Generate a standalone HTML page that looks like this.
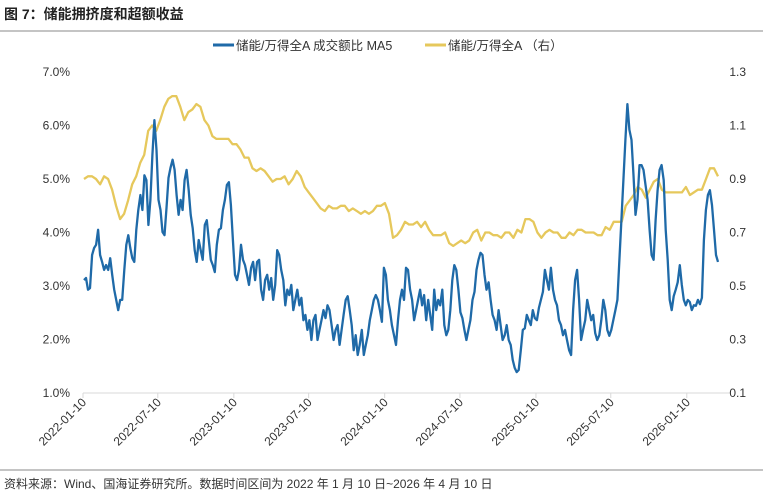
<!DOCTYPE html>
<html><head><meta charset="utf-8">
<style>
body{margin:0;background:#fff;}
#wrap{position:relative;width:763px;height:500px;overflow:hidden;font-family:"Liberation Sans","Noto Sans CJK SC",sans-serif;}
</style></head>
<body>
<div id="wrap">
<svg id="chart" width="763" height="500" viewBox="0 0 763 500" xmlns="http://www.w3.org/2000/svg">
  <text x="4" y="19" font-size="14" font-weight="bold" fill="#222" font-family="Liberation Sans, Noto Sans CJK SC, sans-serif">图 7：储能拥挤度和超额收益</text>
  <line x1="0" y1="31" x2="763" y2="31" stroke="#888" stroke-width="1"/>
  <g>
    <g>
      <line x1="213" y1="45" x2="234" y2="45" stroke="#1f6aa8" stroke-width="3"/>
      <text x="236" y="50" font-size="12.5" fill="#333" font-family="Liberation Sans, Noto Sans CJK SC, sans-serif">储能/万得全A 成交额比 MA5</text>
    </g>
    <g>
      <line x1="425" y1="45" x2="446" y2="45" stroke="#e6c85c" stroke-width="3"/>
      <text x="448" y="50" font-size="12.5" fill="#333" font-family="Liberation Sans, Noto Sans CJK SC, sans-serif">储能/万得全A （右）</text>
    </g>
  </g>
  <g id="axes"></g>
  <g id="series"></g>
  <line x1="0" y1="470" x2="763" y2="470" stroke="#888" stroke-width="1"/>
  <text x="4" y="488" font-size="12" fill="#333" font-family="Liberation Sans, Noto Sans CJK SC, sans-serif">资料来源：Wind、国海证券研究所。数据时间区间为 2022 年 1 月 10 日~2026 年 4 月 10 日</text>
</svg>
</div>
<script>
const leftTicks = [1,2,3,4,5,6,7];
const leftTickLabels = ["1.0%","2.0%","3.0%","4.0%","5.0%","6.0%","7.0%"];
const rightTicks = [0.1,0.3,0.5,0.7,0.9,1.1,1.3];
const rightTickLabels = ["0.1","0.3","0.5","0.7","0.9","1.1","1.3"];
const dateTicks = ["2022-01-10","2022-07-10","2023-01-10","2023-07-10","2024-01-10","2024-07-10","2025-01-10","2025-07-10","2026-01-10"];
const startDate = "2022-01-10";
const endDate = "2026-04-10";
const turnoverRatio = [3.11,3.15,2.93,2.96,3.58,3.71,3.77,4.05,3.58,3.45,3.30,3.39,3.30,3.52,3.21,2.93,2.74,2.55,2.74,2.74,3.30,3.77,3.95,3.71,3.52,3.45,4.05,4.42,4.70,4.42,5.07,4.98,4.14,4.61,5.45,6.10,5.54,4.61,4.42,4.01,3.95,4.46,5.02,5.21,5.36,5.17,4.70,4.33,4.61,4.42,4.98,5.17,4.79,4.33,4.08,3.67,3.45,3.86,3.67,3.49,4.14,4.23,3.86,3.49,3.39,3.26,3.77,4.05,4.08,4.42,4.61,4.89,4.94,4.51,3.86,3.21,3.11,3.30,3.77,3.49,3.39,3.21,3.02,3.34,3.45,3.11,3.45,3.49,2.93,2.74,3.11,3.21,2.93,3.15,2.74,3.02,3.67,3.58,3.30,3.11,2.64,2.93,2.83,3.02,2.55,2.74,2.93,2.64,2.78,2.36,2.46,2.18,2.36,1.99,2.36,2.46,1.99,2.18,2.36,2.55,2.40,2.64,2.55,2.27,1.99,2.18,2.27,1.90,2.18,2.46,2.74,2.81,2.55,2.27,1.80,2.08,1.71,1.90,2.18,1.71,1.90,2.08,2.36,2.55,2.74,2.83,2.74,2.55,2.33,3.34,3.21,2.74,2.55,2.27,2.08,1.90,2.36,2.74,2.93,2.74,3.34,3.30,2.93,2.74,2.36,2.55,2.74,2.93,2.64,2.83,2.36,2.74,2.46,2.18,2.93,2.55,2.74,2.64,2.93,2.27,2.08,2.18,2.55,3.11,3.39,3.30,2.93,2.51,2.40,2.18,1.99,2.18,2.36,2.74,2.89,3.30,3.49,3.62,3.58,3.21,2.93,3.07,2.74,2.46,2.36,2.18,2.55,2.27,1.99,2.08,2.27,1.99,1.90,1.62,1.47,1.39,1.43,1.80,2.18,2.21,2.46,2.36,2.27,2.55,2.40,2.36,2.59,2.74,2.89,3.30,3.11,2.93,3.34,2.93,2.74,2.64,2.36,2.27,2.08,2.18,1.99,1.80,1.71,2.55,3.11,3.30,2.74,1.99,2.18,2.36,2.74,2.55,2.36,2.46,2.12,1.99,2.08,2.36,2.74,2.55,2.18,2.07,2.18,2.36,2.55,2.74,3.49,4.23,4.98,5.73,6.40,5.92,5.73,5.07,4.33,4.61,5.26,5.26,5.17,4.89,4.61,4.05,3.58,3.49,4.23,4.79,5.17,5.26,4.98,4.05,3.49,2.74,2.55,2.81,2.93,3.07,3.39,3.02,2.74,2.64,2.74,2.70,2.55,2.64,2.63,2.74,2.66,2.78,3.86,4.42,4.70,4.79,4.51,4.05,3.58,3.45];
const relativeIndex = [0.90,0.91,0.91,0.90,0.88,0.91,0.90,0.86,0.80,0.75,0.77,0.82,0.88,0.91,0.96,0.99,1.08,1.10,1.08,1.12,1.17,1.20,1.21,1.21,1.17,1.12,1.15,1.16,1.18,1.17,1.12,1.10,1.06,1.05,1.05,1.05,1.05,1.03,1.03,1.01,0.98,0.98,0.94,0.93,0.94,0.93,0.91,0.89,0.90,0.90,0.91,0.88,0.90,0.93,0.91,0.87,0.85,0.83,0.81,0.79,0.78,0.80,0.79,0.79,0.80,0.80,0.78,0.79,0.78,0.77,0.78,0.77,0.78,0.80,0.80,0.81,0.77,0.68,0.69,0.71,0.74,0.73,0.73,0.74,0.72,0.74,0.71,0.69,0.69,0.69,0.70,0.66,0.65,0.66,0.67,0.66,0.67,0.70,0.71,0.67,0.70,0.70,0.69,0.69,0.68,0.70,0.70,0.68,0.71,0.70,0.75,0.75,0.74,0.70,0.68,0.70,0.71,0.70,0.70,0.68,0.68,0.70,0.69,0.71,0.71,0.70,0.70,0.70,0.69,0.69,0.72,0.71,0.74,0.74,0.74,0.80,0.82,0.84,0.87,0.86,0.83,0.86,0.89,0.90,0.86,0.85,0.85,0.85,0.85,0.85,0.87,0.84,0.85,0.86,0.86,0.90,0.94,0.94,0.91];

const NS = "http://www.w3.org/2000/svg";
const PL = 83, PR = 730, PT = 72, PB = 393;
const dataX0 = 84, dataX1 = 718;
const yLeft = v => PB - (v - 1) / 6 * (PB - PT);
const yRight = v => PB - (v - 0.1) / 1.2 * (PB - PT);
const t0 = Date.parse(startDate), t1 = Date.parse(endDate);
const xDate = d => PL + (Date.parse(d) - t0) / (t1 - t0) * (724 - PL);
const xIdx = (i, n) => dataX0 + i / (n - 1) * (dataX1 - dataX0);
const axes = document.getElementById('axes');
const series = document.getElementById('series');
const FONT = "Liberation Sans, Noto Sans CJK SC, sans-serif";

const base = document.createElementNS(NS, 'line');


base.setAttribute('x1', PL); base.setAttribute('x2', PR);
base.setAttribute('y1', PB); base.setAttribute('y2', PB);
base.setAttribute('stroke', '#d9d9d9'); base.setAttribute('stroke-width', '1');
axes.appendChild(base);

leftTicks.forEach((v, i) => {
  const t = document.createElementNS(NS, 'text');
  
  
  t.setAttribute('x', 70); t.setAttribute('y', yLeft(v) + 4);
  t.setAttribute('text-anchor', 'end'); t.setAttribute('font-size', '12');
  t.setAttribute('fill', '#333'); t.setAttribute('font-family', FONT);
  t.textContent = leftTickLabels[i];
  axes.appendChild(t);
});
rightTicks.forEach((v, i) => {
  const t = document.createElementNS(NS, 'text');
  
  
  t.setAttribute('x', 746); t.setAttribute('y', yRight(v) + 4);
  t.setAttribute('text-anchor', 'end'); t.setAttribute('font-size', '12');
  t.setAttribute('fill', '#333'); t.setAttribute('font-family', FONT);
  t.textContent = rightTickLabels[i];
  axes.appendChild(t);
});
dateTicks.forEach(d => {
  const x = xDate(d);
  const tk = document.createElementNS(NS, 'line');
  
  
  tk.setAttribute('x1', x); tk.setAttribute('x2', x);
  tk.setAttribute('y1', PB); tk.setAttribute('y2', PB + 5);
  tk.setAttribute('stroke', '#d9d9d9');
  axes.appendChild(tk);
  const t = document.createElementNS(NS, 'text');
  
  
  t.setAttribute('x', x + 4); t.setAttribute('y', PB + 10);
  t.setAttribute('text-anchor', 'end'); t.setAttribute('font-size', '12');
  t.setAttribute('fill', '#333'); t.setAttribute('font-family', FONT);
  t.setAttribute('transform', `rotate(-45 ${x + 4} ${PB + 10})`);
  t.textContent = d;
  axes.appendChild(t);
});

function drawLine(arr, yf, color, name) {
  const n = arr.length;
  const pts = arr.map((v, i) => xIdx(i, n).toFixed(1) + ',' + yf(v).toFixed(1)).join(' ');
  const p = document.createElementNS(NS, 'polyline');
  
  
  p.setAttribute('points', pts);
  p.setAttribute('fill', 'none'); p.setAttribute('stroke', color);
  p.setAttribute('stroke-width', '2.3'); p.setAttribute('stroke-linejoin', 'round');
  series.appendChild(p);
}
drawLine(relativeIndex, yRight, '#e6c85c', 'relative-index-line');
drawLine(turnoverRatio, yLeft, '#1f6aa8', 'turnover-ratio-line');
</script>
</body></html>
